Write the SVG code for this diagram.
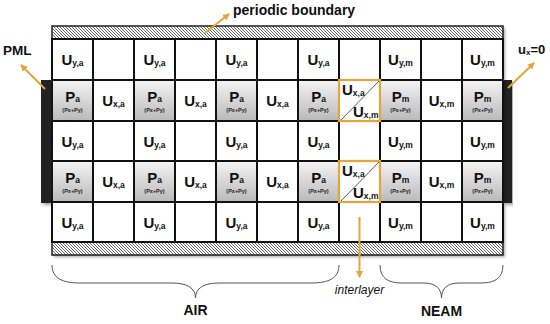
<svg xmlns="http://www.w3.org/2000/svg" width="550" height="324" viewBox="0 0 550 324">
<defs>
<pattern id="hatch" patternUnits="userSpaceOnUse" width="3" height="3">
<rect width="3" height="3" fill="#ffffff"/>
<path d="M-1,-1 L4,4 M-1,2 L1,4 M2,-1 L4,1" stroke="#6a6a6a" stroke-width="1"/>
</pattern>
<linearGradient id="pgrad" x1="0" y1="0" x2="0" y2="1">
<stop offset="0" stop-color="#f4f4f4"/>
<stop offset="1" stop-color="#b9b9b9"/>
</linearGradient>
<filter id="shadow" x="-5%" y="-5%" width="115%" height="115%">
<feDropShadow dx="2" dy="2" stdDeviation="1.5" flood-color="#000" flood-opacity="0.35"/>
</filter>
<marker id="arr" markerWidth="8" markerHeight="8" refX="6" refY="4" orient="auto" markerUnits="userSpaceOnUse">
<path d="M0,0.5 L7,4 L0,7.5 Z" fill="#E5A53A"/>
</marker>
</defs>
<style>
.cell{fill:#fff;stroke:#111;stroke-width:2}
.pcell{fill:url(#pgrad);stroke:#111;stroke-width:2}
.hatch{fill:url(#hatch);stroke:#222;stroke-width:1.5}
.bar{fill:#232323}
.big{font-family:"Liberation Sans",Arial,sans-serif;font-weight:bold;font-size:15px;fill:#111;text-anchor:middle}
.sub{font-size:8.5px}
.tiny{font-family:"Liberation Sans",Arial,sans-serif;font-weight:bold;font-size:5.5px;fill:#222;text-anchor:middle}
.lbl{font-family:"Liberation Sans",Arial,sans-serif;font-weight:bold;font-size:13.5px;fill:#111}
.it{font-family:"Liberation Sans",Arial,sans-serif;font-style:italic;font-size:12px;fill:#111;text-anchor:middle}
.con{stroke:#E5A53A;stroke-width:2;fill:none}
.brace{stroke:#555;stroke-width:1;fill:none}
.inter{fill:none;stroke:#E5A53A;stroke-width:2.2}
</style>

<!-- shadows / boundaries -->
<g id="pml-left"><rect class="bar" x="41" y="80" width="11" height="123" filter="url(#shadow)"/></g>
<g id="pml-right"><rect class="bar" x="503" y="80" width="9" height="123" filter="url(#shadow)"/></g>
<rect x="52" y="26" width="451" height="229" fill="#fff" filter="url(#shadow)"/>
<g id="periodic-top"><rect class="hatch" x="52" y="26" width="451" height="13"/></g>
<g id="periodic-bottom"><rect class="hatch" x="52" y="242" width="451" height="13"/></g>

<!-- Row 1 -->
<g id="r1">
<g id="r1c1"><rect class="cell" x="52" y="39" width="41" height="41"/><text class="big" x="72.5" y="65">U<tspan class="sub" dy="1">y,a</tspan></text></g>
<g id="r1c2"><rect class="cell" x="93" y="39" width="41" height="41"/></g>
<g id="r1c3"><rect class="cell" x="134" y="39" width="41" height="41"/><text class="big" x="154.5" y="65">U<tspan class="sub" dy="1">y,a</tspan></text></g>
<g id="r1c4"><rect class="cell" x="175" y="39" width="41" height="41"/></g>
<g id="r1c5"><rect class="cell" x="216" y="39" width="41" height="41"/><text class="big" x="236.5" y="65">U<tspan class="sub" dy="1">y,a</tspan></text></g>
<g id="r1c6"><rect class="cell" x="257" y="39" width="41" height="41"/></g>
<g id="r1c7"><rect class="cell" x="298" y="39" width="41" height="41"/><text class="big" x="318.5" y="65">U<tspan class="sub" dy="1">y,a</tspan></text></g>
<g id="r1c8"><rect class="cell" x="339" y="39" width="41" height="41"/></g>
<g id="r1c9"><rect class="cell" x="380" y="39" width="41" height="41"/><text class="big" x="400.5" y="65">U<tspan class="sub" dy="1">y,m</tspan></text></g>
<g id="r1c10"><rect class="cell" x="421" y="39" width="41" height="41"/></g>
<g id="r1c11"><rect class="cell" x="462" y="39" width="41" height="41"/><text class="big" x="482.5" y="65">U<tspan class="sub" dy="1">y,m</tspan></text></g>
</g>

<!-- Row 2 -->
<g id="r2">
<g id="r2c1"><rect class="pcell" x="52" y="80" width="41" height="41"/><text class="big" x="72.5" y="101.5">P<tspan class="sub" dy="0.5">a</tspan></text><text class="tiny" x="72.5" y="111.5">(Px+Py)</text></g>
<g id="r2c2"><rect class="cell" x="93" y="80" width="41" height="41"/><text class="big" x="113.5" y="106">U<tspan class="sub" dy="1">x,a</tspan></text></g>
<g id="r2c3"><rect class="pcell" x="134" y="80" width="41" height="41"/><text class="big" x="154.5" y="101.5">P<tspan class="sub" dy="0.5">a</tspan></text><text class="tiny" x="154.5" y="111.5">(Px+Py)</text></g>
<g id="r2c4"><rect class="cell" x="175" y="80" width="41" height="41"/><text class="big" x="195.5" y="106">U<tspan class="sub" dy="1">x,a</tspan></text></g>
<g id="r2c5"><rect class="pcell" x="216" y="80" width="41" height="41"/><text class="big" x="236.5" y="101.5">P<tspan class="sub" dy="0.5">a</tspan></text><text class="tiny" x="236.5" y="111.5">(Px+Py)</text></g>
<g id="r2c6"><rect class="cell" x="257" y="80" width="41" height="41"/><text class="big" x="277.5" y="106">U<tspan class="sub" dy="1">x,a</tspan></text></g>
<g id="r2c7"><rect class="pcell" x="298" y="80" width="41" height="41"/><text class="big" x="318.5" y="101.5">P<tspan class="sub" dy="0.5">a</tspan></text><text class="tiny" x="318.5" y="111.5">(Px+Py)</text></g>
<g id="r2c8"><rect class="cell" x="339" y="80" width="41" height="41"/></g>
<g id="r2c9"><rect class="pcell" x="380" y="80" width="41" height="41"/><text class="big" x="400.5" y="101.5">P<tspan class="sub" dy="0.5">m</tspan></text><text class="tiny" x="400.5" y="111.5">(Px+Py)</text></g>
<g id="r2c10"><rect class="cell" x="421" y="80" width="41" height="41"/><text class="big" x="441.5" y="106">U<tspan class="sub" dy="1">x,m</tspan></text></g>
<g id="r2c11"><rect class="pcell" x="462" y="80" width="41" height="41"/><text class="big" x="482.5" y="101.5">P<tspan class="sub" dy="0.5">m</tspan></text><text class="tiny" x="482.5" y="111.5">(Px+Py)</text></g>
</g>

<!-- Row 3 -->
<g id="r3">
<g id="r3c1"><rect class="cell" x="52" y="121" width="41" height="40"/><text class="big" x="72.5" y="146.5">U<tspan class="sub" dy="1">y,a</tspan></text></g>
<g id="r3c2"><rect class="cell" x="93" y="121" width="41" height="40"/></g>
<g id="r3c3"><rect class="cell" x="134" y="121" width="41" height="40"/><text class="big" x="154.5" y="146.5">U<tspan class="sub" dy="1">y,a</tspan></text></g>
<g id="r3c4"><rect class="cell" x="175" y="121" width="41" height="40"/></g>
<g id="r3c5"><rect class="cell" x="216" y="121" width="41" height="40"/><text class="big" x="236.5" y="146.5">U<tspan class="sub" dy="1">y,a</tspan></text></g>
<g id="r3c6"><rect class="cell" x="257" y="121" width="41" height="40"/></g>
<g id="r3c7"><rect class="cell" x="298" y="121" width="41" height="40"/><text class="big" x="318.5" y="146.5">U<tspan class="sub" dy="1">y,a</tspan></text></g>
<g id="r3c8"><rect class="cell" x="339" y="121" width="41" height="40"/></g>
<g id="r3c9"><rect class="cell" x="380" y="121" width="41" height="40"/><text class="big" x="400.5" y="146.5">U<tspan class="sub" dy="1">y,m</tspan></text></g>
<g id="r3c10"><rect class="cell" x="421" y="121" width="41" height="40"/></g>
<g id="r3c11"><rect class="cell" x="462" y="121" width="41" height="40"/><text class="big" x="482.5" y="146.5">U<tspan class="sub" dy="1">y,m</tspan></text></g>
</g>

<!-- Row 4 -->
<g id="r4">
<g id="r4c1"><rect class="pcell" x="52" y="161" width="41" height="41"/><text class="big" x="72.5" y="182.5">P<tspan class="sub" dy="0.5">a</tspan></text><text class="tiny" x="72.5" y="192.5">(Px+Py)</text></g>
<g id="r4c2"><rect class="cell" x="93" y="161" width="41" height="41"/><text class="big" x="113.5" y="187">U<tspan class="sub" dy="1">x,a</tspan></text></g>
<g id="r4c3"><rect class="pcell" x="134" y="161" width="41" height="41"/><text class="big" x="154.5" y="182.5">P<tspan class="sub" dy="0.5">a</tspan></text><text class="tiny" x="154.5" y="192.5">(Px+Py)</text></g>
<g id="r4c4"><rect class="cell" x="175" y="161" width="41" height="41"/><text class="big" x="195.5" y="187">U<tspan class="sub" dy="1">x,a</tspan></text></g>
<g id="r4c5"><rect class="pcell" x="216" y="161" width="41" height="41"/><text class="big" x="236.5" y="182.5">P<tspan class="sub" dy="0.5">a</tspan></text><text class="tiny" x="236.5" y="192.5">(Px+Py)</text></g>
<g id="r4c6"><rect class="cell" x="257" y="161" width="41" height="41"/><text class="big" x="277.5" y="187">U<tspan class="sub" dy="1">x,a</tspan></text></g>
<g id="r4c7"><rect class="pcell" x="298" y="161" width="41" height="41"/><text class="big" x="318.5" y="182.5">P<tspan class="sub" dy="0.5">a</tspan></text><text class="tiny" x="318.5" y="192.5">(Px+Py)</text></g>
<g id="r4c8"><rect class="cell" x="339" y="161" width="41" height="41"/></g>
<g id="r4c9"><rect class="pcell" x="380" y="161" width="41" height="41"/><text class="big" x="400.5" y="182.5">P<tspan class="sub" dy="0.5">m</tspan></text><text class="tiny" x="400.5" y="192.5">(Px+Py)</text></g>
<g id="r4c10"><rect class="cell" x="421" y="161" width="41" height="41"/><text class="big" x="441.5" y="187">U<tspan class="sub" dy="1">x,m</tspan></text></g>
<g id="r4c11"><rect class="pcell" x="462" y="161" width="41" height="41"/><text class="big" x="482.5" y="182.5">P<tspan class="sub" dy="0.5">m</tspan></text><text class="tiny" x="482.5" y="192.5">(Px+Py)</text></g>
</g>

<!-- Row 5 -->
<g id="r5">
<g id="r5c1"><rect class="cell" x="52" y="202" width="41" height="40"/><text class="big" x="72.5" y="227.5">U<tspan class="sub" dy="1">y,a</tspan></text></g>
<g id="r5c2"><rect class="cell" x="93" y="202" width="41" height="40"/></g>
<g id="r5c3"><rect class="cell" x="134" y="202" width="41" height="40"/><text class="big" x="154.5" y="227.5">U<tspan class="sub" dy="1">y,a</tspan></text></g>
<g id="r5c4"><rect class="cell" x="175" y="202" width="41" height="40"/></g>
<g id="r5c5"><rect class="cell" x="216" y="202" width="41" height="40"/><text class="big" x="236.5" y="227.5">U<tspan class="sub" dy="1">y,a</tspan></text></g>
<g id="r5c6"><rect class="cell" x="257" y="202" width="41" height="40"/></g>
<g id="r5c7"><rect class="cell" x="298" y="202" width="41" height="40"/><text class="big" x="318.5" y="227.5">U<tspan class="sub" dy="1">y,a</tspan></text></g>
<g id="r5c8"><rect class="cell" x="339" y="202" width="41" height="40"/></g>
<g id="r5c9"><rect class="cell" x="380" y="202" width="41" height="40"/><text class="big" x="400.5" y="227.5">U<tspan class="sub" dy="1">y,m</tspan></text></g>
<g id="r5c10"><rect class="cell" x="421" y="202" width="41" height="40"/></g>
<g id="r5c11"><rect class="cell" x="462" y="202" width="41" height="40"/><text class="big" x="482.5" y="227.5">U<tspan class="sub" dy="1">y,m</tspan></text></g>
</g>

<!-- interlayer cells -->
<g id="interlayer-1">
<rect class="inter" x="339" y="80" width="41" height="41"/>
<line x1="341" y1="120" x2="379" y2="81" stroke="#333" stroke-width="0.8"/>
<text class="big" x="342" y="95" style="text-anchor:start">U<tspan class="sub" dy="1">x,a</tspan></text>
<text class="big" x="378.5" y="117" style="text-anchor:end">U<tspan class="sub" dy="1">x,m</tspan></text>
</g>
<g id="interlayer-2">
<rect class="inter" x="339" y="161" width="41" height="41"/>
<line x1="341" y1="201" x2="379" y2="162" stroke="#333" stroke-width="0.8"/>
<text class="big" x="342" y="176" style="text-anchor:start">U<tspan class="sub" dy="1">x,a</tspan></text>
<text class="big" x="378.5" y="198" style="text-anchor:end">U<tspan class="sub" dy="1">x,m</tspan></text>
</g>

<!-- labels -->
<g id="label-pml"><text class="lbl" x="3" y="55">PML</text></g>
<g id="label-periodic"><text class="lbl" x="233" y="15" style="font-size:14px">periodic boundary</text></g>
<g id="label-ux"><text class="lbl" x="518" y="54" style="font-size:13px">u<tspan style="font-size:8px" dy="1">x</tspan><tspan dy="-1">=0</tspan></text></g>
<g id="label-interlayer"><text class="it" x="359.5" y="294">interlayer</text></g>
<g id="label-air"><text class="lbl" x="195.5" y="315" style="text-anchor:middle;font-size:14px">AIR</text></g>
<g id="label-neam"><text class="lbl" x="441.5" y="316" style="text-anchor:middle;font-size:14px">NEAM</text></g>

<!-- braces -->
<g id="braces">
<path class="brace" d="M52,265 C52,278 62,283 80,283 L172,283 C187,283 195.5,288 195.5,298 C195.5,288 204,283 219,283 L311,283 C329,283 339,278 339,265"/>
<path class="brace" d="M380,265 C380,278 388,283 402,283 L424,283 C435,283 441.5,288 441.5,298 C441.5,288 448,283 459,283 L481,283 C495,283 503,278 503,265"/>
</g>

<!-- connectors -->
<g id="connectors">
<line class="con" x1="45" y1="89" x2="21" y2="65" marker-end="url(#arr)"/>
<line class="con" x1="205" y1="33" x2="229" y2="14" marker-end="url(#arr)"/>
<line class="con" x1="508" y1="88" x2="534" y2="63" marker-end="url(#arr)"/>
<line class="con" x1="359.5" y1="217" x2="359.5" y2="277" marker-end="url(#arr)"/>
</g>
</svg>
